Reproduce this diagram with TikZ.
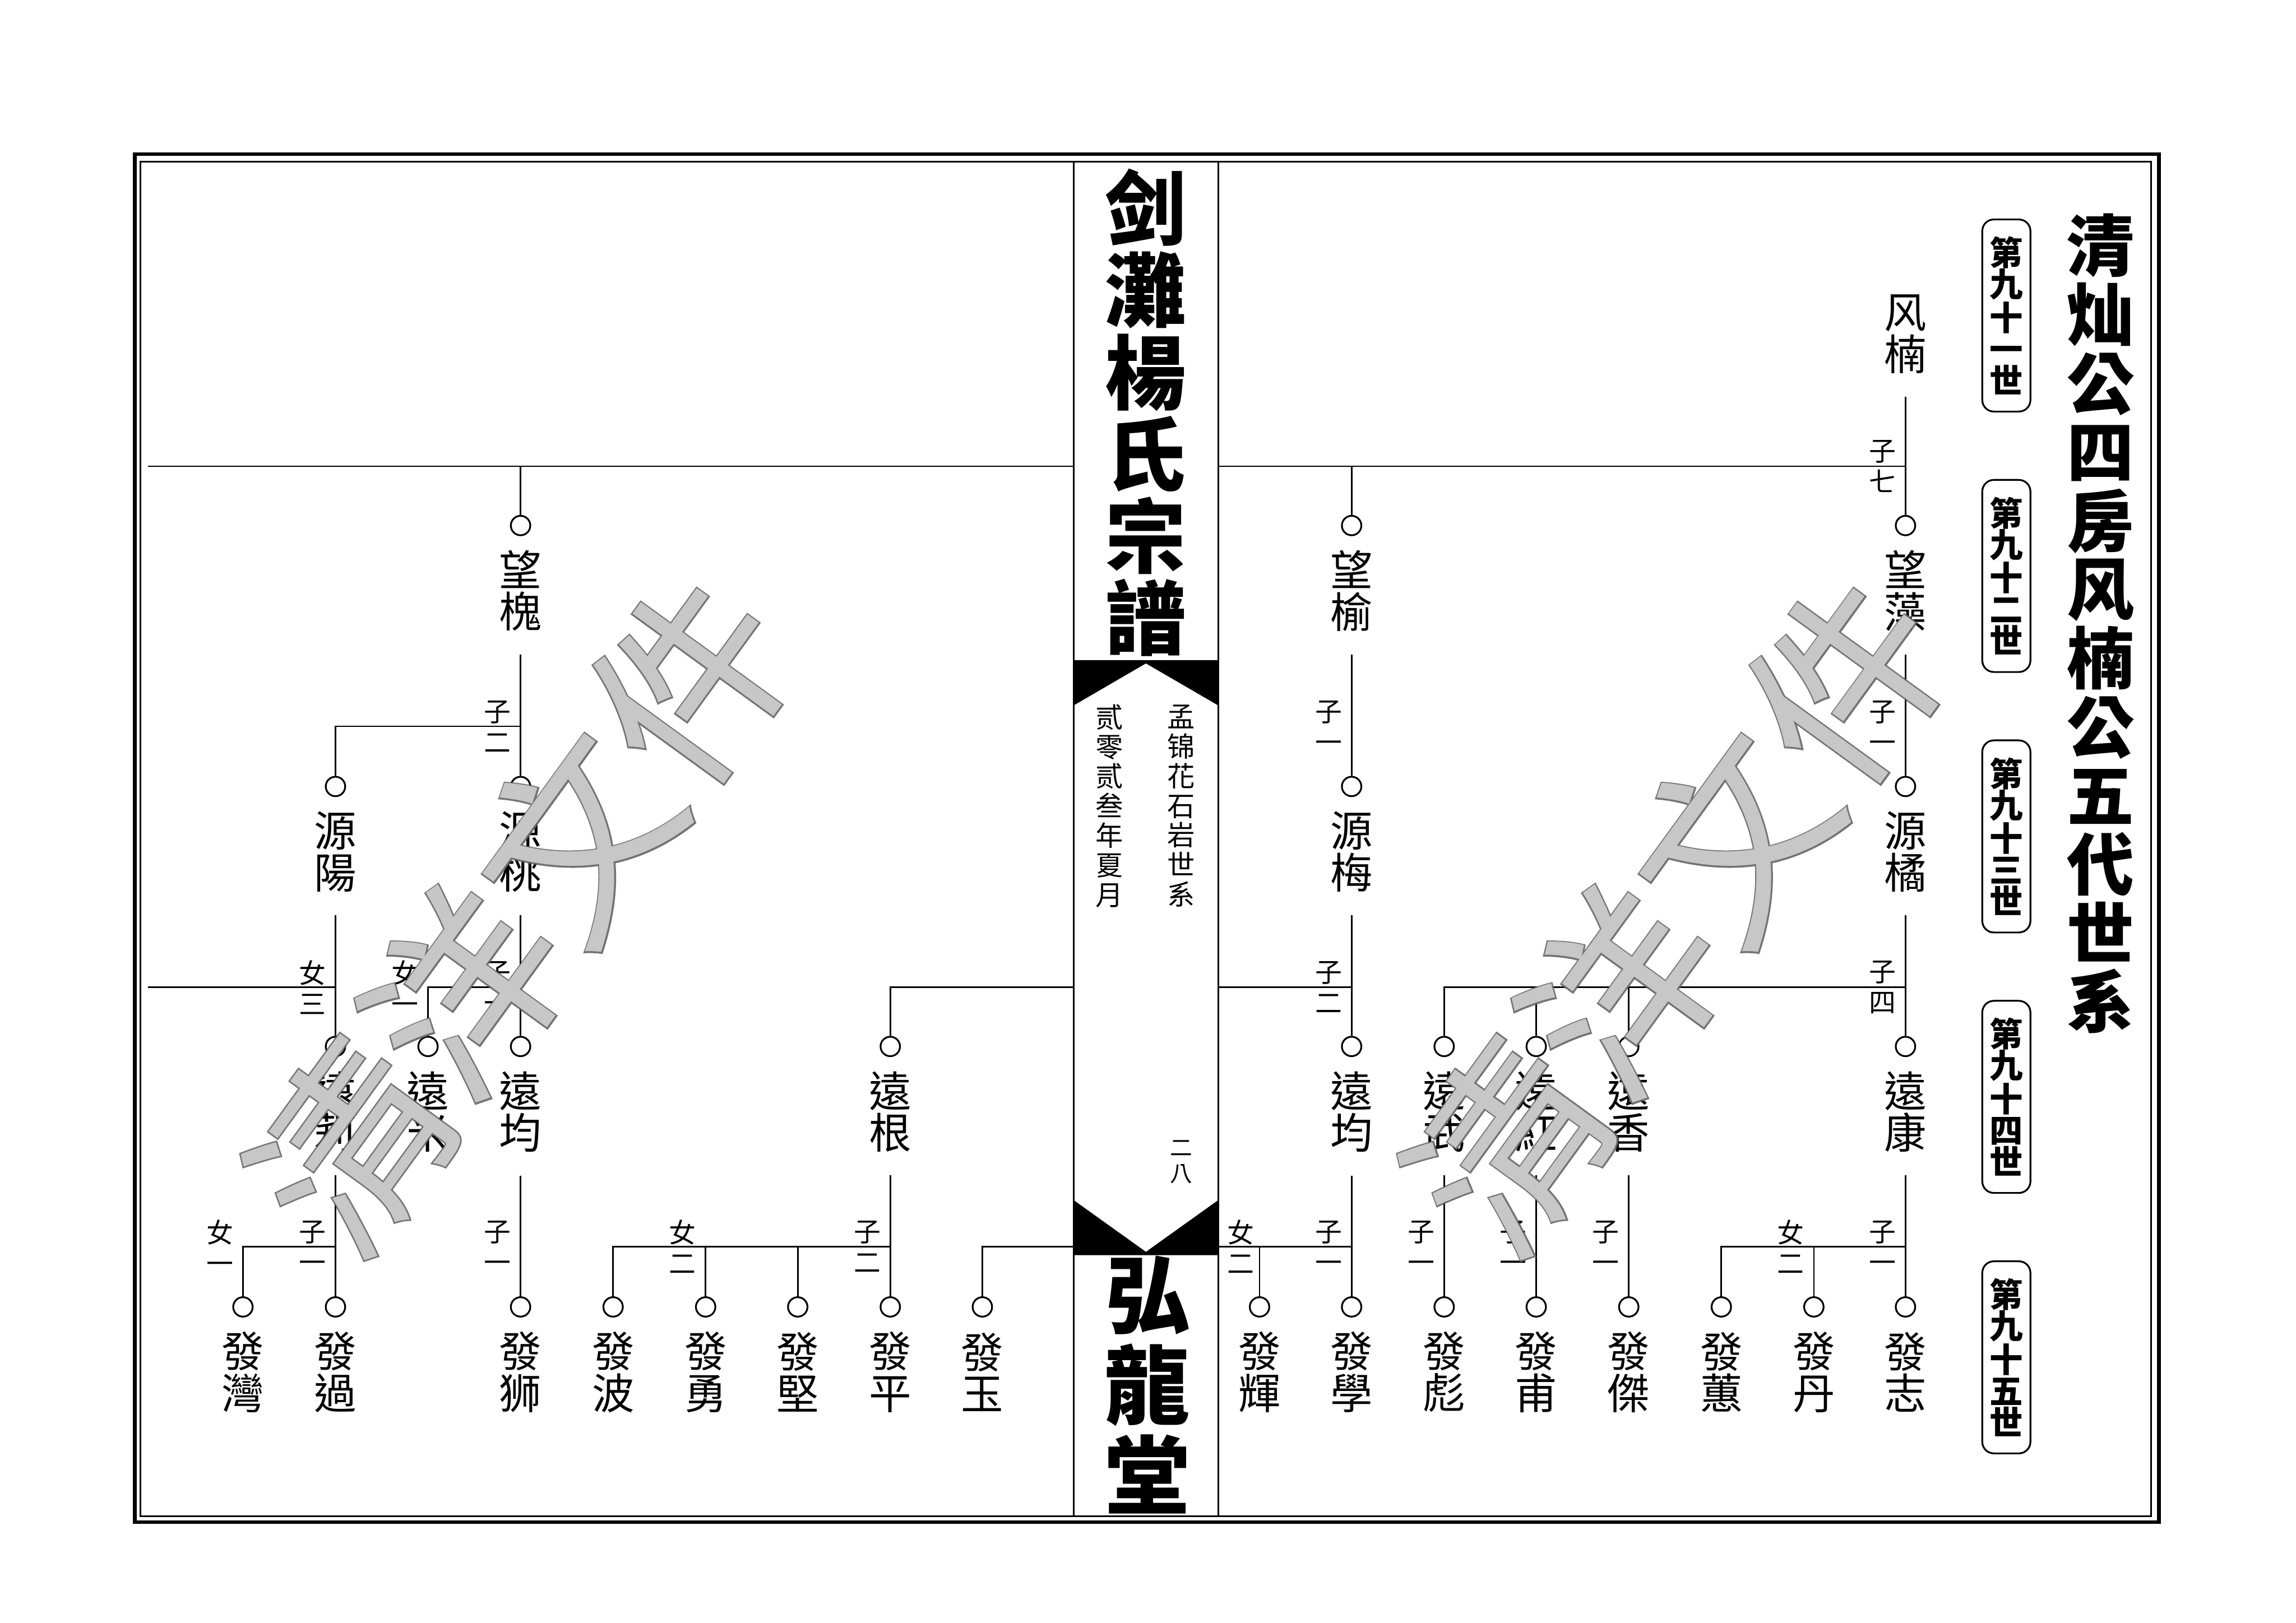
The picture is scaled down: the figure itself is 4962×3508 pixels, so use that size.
\documentclass[tikz,border=0pt]{standalone}
\usepackage{fontspec}
\newfontfamily\cjk{Noto Sans CJK TC}
\newfontfamily\cjkedge{Noto Sans CJK TC}[FakeBold=1.5]
\usetikzlibrary{positioning, calc}

\begin{document}
\begin{tikzpicture}[x=0.01cm, y=-0.01cm,
    person/.style={circle, draw, line width=1.1pt, minimum size=0.42cm, inner sep=0pt},
    pname/.style={font=\cjk\fontsize{26}{25.6}\selectfont, align=center, inner xsep=0pt, inner ysep=0.5cm},
    rel/.style={font=\cjk\fontsize{16.5}{19}\selectfont, align=center, inner sep=0pt},
    tree/.style={line width=0.95pt},
    spine/.style={line width=1.1pt},
    genbox/.style={draw, rounded corners=0.25cm, line width=1.1pt, minimum width=1.04cm, minimum height=4.15cm,
        inner sep=0pt, align=center, font=\cjk\bfseries\fontsize{20.5}{19.3}\selectfont},
    wmedge/.style={font=\cjkedge\fontsize{118}{118}\selectfont, text=black!60, text opacity=0.9, inner sep=0pt},
    wmark/.style={font=\cjk\fontsize{118}{118}\selectfont, text=black!20, text opacity=0.95, inner sep=0pt}
  ]
\useasboundingbox (0,0) rectangle (4962,3508);

% page frame and spine
\draw[line width=2.3pt] (291,333) rectangle (4666,3290);
\draw[line width=1.05pt] (304,350) rectangle (4649,3277);
\draw[spine] (2320,350) -- (2320,3277);
\draw[spine] (2633,350) -- (2633,3277);
\fill (2320,1427) -- (2633,1427) -- (2633,1525) -- (2476.5,1434) -- (2320,1525) -- cycle;
\fill (2320,2594) -- (2476.5,2706) -- (2633,2594) -- (2633,2713) -- (2320,2713) -- cycle;

\node[font=\cjk\bfseries\fontsize{49.8}{50.4}\selectfont, align=center, inner sep=0pt] (booktitle) at (2476,892)
    {剑\\灘\\楊\\氏\\宗\\譜};
\node[font=\cjk\fontsize{17}{18.2}\selectfont, align=center, inner sep=0pt] (lineage) at (2553,1742)
    {孟\\锦\\花\\石\\岩\\世\\系};
\node[font=\cjk\fontsize{17}{18.2}\selectfont, align=center, inner sep=0pt] (edition) at (2398,1742)
    {贰\\零\\贰\\叁\\年\\夏\\月};
\node[font=\cjk\fontsize{13.7}{15.9}\selectfont, align=center, inner sep=0pt] (pageno) at (2553,2512) {二\\八};
\node[font=\cjk\bfseries\fontsize{52.6}{55.5}\selectfont, align=center, inner sep=0pt] (hall) at (2480,2993)
    {弘\\龍\\堂};

% right margin: title and generations
\node[font=\cjk\bfseries\fontsize{41.3}{42.25}\selectfont, align=center, inner sep=0pt] (pagetitle) at (4540,1348)
    {清\\灿\\公\\四\\房\\风\\楠\\公\\五\\代\\世\\系};
\foreach \n [count=\i from 0] in {一,二,三,四,五}
    \node[genbox] (gen\i) at (4336,{682+563*\i}) {第\\九\\十\\\n\\世};

% generation 91 / 92
\node[pname] (n-fengnan) at (4118,722) {风\\楠};
\node[person] (c-wangzao) at (4118,1136) {};
\node[pname] (n-wangzao) at (4118,1277) {望\\藻};
\node[person] (c-wangyu) at (2921,1136) {};
\node[pname] (n-wangyu) at (2921,1277) {望\\榆};
\node[person] (c-wanghuai) at (1125,1136) {};
\node[pname] (n-wanghuai) at (1125,1277) {望\\槐};

% generation 93
\node[person] (c-yuanju) at (4118,1700) {};
\node[pname] (n-yuanju) at (4118,1841) {源\\橘};
\node[person] (c-yuanmei) at (2921,1700) {};
\node[pname] (n-yuanmei) at (2921,1841) {源\\梅};
\node[person] (c-yuantao) at (1125,1700) {};
\node[pname] (n-yuantao) at (1125,1841) {源\\桃};
\node[person] (c-yuanyang) at (725,1700) {};
\node[pname] (n-yuanyang) at (725,1841) {源\\陽};

% generation 94
\node[person] (c-yuankang) at (4118,2262) {};
\node[pname] (n-yuankang) at (4118,2403) {遠\\康};
\node[person] (c-yuanxiang) at (3520,2262) {};
\node[pname] (n-yuanxiang) at (3520,2403) {遠\\香};
\node[person] (c-yuanhong) at (3320,2262) {};
\node[pname] (n-yuanhong) at (3320,2403) {遠\\紅};
\node[person] (c-yuanwu) at (3121,2262) {};
\node[pname] (n-yuanwu) at (3121,2403) {遠\\武};
\node[person] (c-yuanjunR) at (2921,2262) {};
\node[pname] (n-yuanjunR) at (2921,2403) {遠\\均};
\node[person] (c-yuangen) at (1924,2262) {};
\node[pname] (n-yuangen) at (1924,2403) {遠\\根};
\node[person] (c-yuanjunL) at (1125,2262) {};
\node[pname] (n-yuanjunL) at (1125,2403) {遠\\均};
\node[person] (c-yuanmi) at (925,2262) {};
\node[pname] (n-yuanmi) at (925,2403) {遠\\米};
\node[person] (c-yuanli) at (725,2262) {};
\node[pname] (n-yuanli) at (725,2403) {遠\\莉};

% generation 95
\node[person] (c-fazhi) at (4118,2825) {};
\node[pname] (n-fazhi) at (4118,2966) {發\\志};
\node[person] (c-fadan) at (3920,2825) {};
\node[pname] (n-fadan) at (3920,2966) {發\\丹};
\node[person] (c-fahui) at (3720,2825) {};
\node[pname] (n-fahui) at (3720,2966) {發\\蕙};
\node[person] (c-fajie) at (3520,2825) {};
\node[pname] (n-fajie) at (3520,2966) {發\\傑};
\node[person] (c-fafu) at (3320,2825) {};
\node[pname] (n-fafu) at (3320,2966) {發\\甫};
\node[person] (c-fabiao) at (3121,2825) {};
\node[pname] (n-fabiao) at (3121,2966) {發\\彪};
\node[person] (c-faxue) at (2921,2825) {};
\node[pname] (n-faxue) at (2921,2966) {發\\學};
\node[person] (c-fahuei) at (2722,2825) {};
\node[pname] (n-fahuei) at (2722,2966) {發\\輝};
\node[person] (c-fayu) at (2123,2825) {};
\node[pname] (n-fayu) at (2123,2966) {發\\玉};
\node[person] (c-faping) at (1924,2825) {};
\node[pname] (n-faping) at (1924,2966) {發\\平};
\node[person] (c-fajian) at (1724,2825) {};
\node[pname] (n-fajian) at (1724,2966) {發\\堅};
\node[person] (c-fayong) at (1525,2825) {};
\node[pname] (n-fayong) at (1525,2966) {發\\勇};
\node[person] (c-fabo) at (1325,2825) {};
\node[pname] (n-fabo) at (1325,2966) {發\\波};
\node[person] (c-fashi) at (1125,2825) {};
\node[pname] (n-fashi) at (1125,2966) {發\\狮};
\node[person] (c-faguo) at (725,2825) {};
\node[pname] (n-faguo) at (725,2966) {發\\過};
\node[person] (c-fawan) at (525,2825) {};
\node[pname] (n-fawan) at (525,2966) {發\\灣};

% junctions
\coordinate (j-fengnan) at (4118,1008);
\coordinate (left-j1) at (320,1008);
\coordinate (spL-j1) at (2320,1008);
\coordinate (spR-j1) at (2633,1008);
\coordinate (j-wanghuai) at (1125,1570);
\coordinate (j-yuanju) at (4118,2134);
\coordinate (j-yuanmei) at (2921,2134);
\coordinate (j-yuantao) at (1125,2134);
\coordinate (j-yuanyang) at (725,2134);
\coordinate (left-j3) at (320,2134);
\coordinate (spL-j3) at (2320,2134);
\coordinate (spR-j3) at (2633,2134);
\coordinate (j-yuankang) at (4118,2695);
\coordinate (j-yuanjunR) at (2921,2695);
\coordinate (j-yuangen) at (1924,2695);
\coordinate (j-yuanli) at (725,2695);
\coordinate (spL-j4) at (2320,2695);
\coordinate (spR-j4) at (2633,2695);

% connectors
\draw[tree] (n-fengnan) -- (c-wangzao);
\draw[tree] (spR-j1) -- (j-fengnan);
\draw[tree] (c-wangyu) |- (j-fengnan);
\draw[tree] (left-j1) -- (spL-j1);
\draw[tree] (c-wanghuai) |- (spL-j1);

\draw[tree] (n-wangzao) -- (c-yuanju);
\draw[tree] (n-wangyu) -- (c-yuanmei);
\draw[tree] (n-wanghuai) -- (c-yuantao);
\draw[tree] (c-yuanyang) |- (j-wanghuai);

\draw[tree] (n-yuanju) -- (c-yuankang);
\draw[tree] (c-yuanwu) |- (j-yuanju);
\draw[tree] (c-yuanhong) |- (j-yuanju);
\draw[tree] (c-yuanxiang) |- (j-yuanju);
\draw[tree] (n-yuanmei) -- (c-yuanjunR);
\draw[tree] (spR-j3) -- (j-yuanmei);
\draw[tree] (c-yuangen) |- (spL-j3);
\draw[tree] (n-yuantao) -- (c-yuanjunL);
\draw[tree] (c-yuanmi) |- (j-yuantao);
\draw[tree] (n-yuanyang) -- (c-yuanli);
\draw[tree] (left-j3) -- (j-yuanyang);

\draw[tree] (n-yuankang) -- (c-fazhi);
\draw[tree] (c-fahui) |- (j-yuankang);
\draw[tree] (c-fadan) |- (j-yuankang);
\draw[tree] (n-yuanxiang) -- (c-fajie);
\draw[tree] (n-yuanhong) -- (c-fafu);
\draw[tree] (n-yuanwu) -- (c-fabiao);
\draw[tree] (n-yuanjunR) -- (c-faxue);
\draw[tree] (spR-j4) -- (j-yuanjunR);
\draw[tree] (c-fahuei) |- (j-yuanjunR);
\draw[tree] (c-fayu) |- (spL-j4);
\draw[tree] (n-yuangen) -- (c-faping);
\draw[tree] (c-fabo) |- (j-yuangen);
\draw[tree] (c-fayong) |- (j-yuangen);
\draw[tree] (c-fajian) |- (j-yuangen);
\draw[tree] (n-yuanjunL) -- (c-fashi);
\draw[tree] (n-yuanli) -- (c-faguo);
\draw[tree] (c-fawan) |- (j-yuanli);

% sons and daughters
\node[rel] at (4068,1008) {子\\七};
\node[rel] at (4068,1570) {子\\一};
\node[rel] at (2871,1570) {子\\一};
\node[rel] at (1075,1570) {子\\二};
\node[rel] at (4068,2134) {子\\四};
\node[rel] at (2871,2134) {子\\二};
\node[rel] at (1075,2134) {子\\一};
\node[rel] at (875,2134) {女\\一};
\node[rel] at (675,2134) {女\\三};
\node[rel] at (4068,2695) {子\\一};
\node[rel] at (3870,2695) {女\\二};
\node[rel] at (3470,2695) {子\\一};
\node[rel] at (3270,2695) {子\\一};
\node[rel] at (3071,2695) {子\\一};
\node[rel] at (2871,2695) {子\\一};
\node[rel] at (2682,2695) {女\\二};
\node[rel] at (1874,2695) {子\\二};
\node[rel] at (1475,2695) {女\\二};
\node[rel] at (1075,2695) {子\\一};
\node[rel] at (675,2695) {子\\一};
\node[rel] at (475,2695) {女\\一};

% watermark
\node[wmedge, rotate=54] (wm-left-edge) at (1126,1975) {清洋文件};
\node[wmark, rotate=54] (wm-left) at (1126,1975) {清洋文件};
\node[wmedge, rotate=54] (wm-right-edge) at (3626,1975) {清洋文件};
\node[wmark, rotate=54] (wm-right) at (3626,1975) {清洋文件};
\end{tikzpicture}
\end{document}
